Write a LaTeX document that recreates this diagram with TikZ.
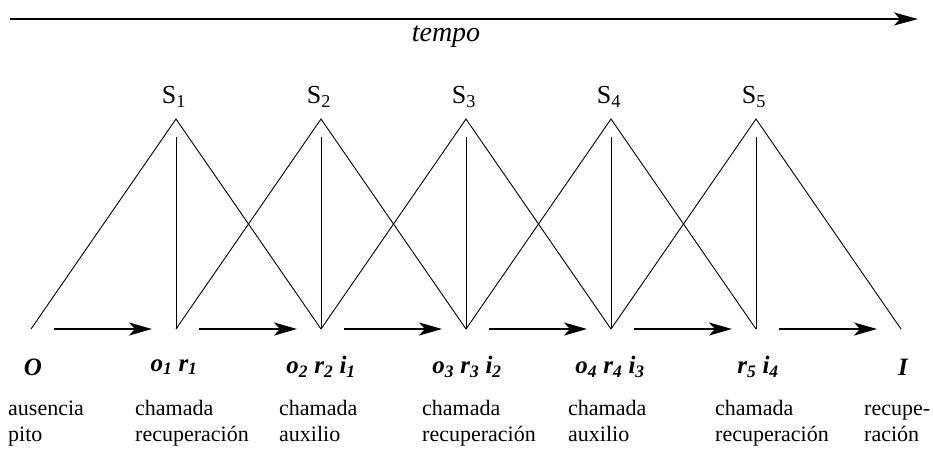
\documentclass[tikz,border=0pt]{standalone}
\usepackage{fontspec}
\setmainfont{Liberation Serif}
\usetikzlibrary{arrows.meta}
\begin{document}
\begin{tikzpicture}[x=1pt, y=-1pt,
  seg/.style={line width=0.9pt},
  arr/.style={line width=2.6pt, -{Stealth[length=23pt,width=13pt,inset=6pt]}, shorten <=23pt, shorten >=24pt},
  lab/.style={font=\fontsize{25}{28}\selectfont\bfseries\itshape},
  desc/.style={font=\fontsize{22}{26}\selectfont, align=left, anchor=base west, inner sep=0pt}]
\useasboundingbox (0,0) rectangle (933,448);
% time axis
\coordinate (t0) at (10,19);
\coordinate (t1) at (918,19);
\draw[line width=2pt, -{Stealth[length=24pt,width=13pt,inset=6pt]}] (t0) -- (t1);
\node[font=\fontsize{28}{30}\selectfont\itshape] (tempo) at (446,37) {tempo};
% feet and peaks
\foreach \i in {0,...,6}
  \coordinate (b\i) at ({31+145*\i},329);
\foreach \i in {1,...,5} {
  \coordinate (p\i) at ({31+145*\i},119);
  \coordinate (v\i) at ({31+145*\i},137);
  \node[font=\fontsize{26}{30}\selectfont] (S\i) at ({29+145*\i},97) {S\textsubscript{\i}};
}
\foreach \i in {1,...,5} {
  \pgfmathtruncatemacro\lft{\i-1}
  \pgfmathtruncatemacro\rgt{\i+1}
  \draw[seg] (b\lft) -- (p\i) -- (b\rgt);
  \draw[seg] (v\i) -- (b\i);
}
% transitions
\foreach \i in {0,...,5} {
  \pgfmathtruncatemacro\nxt{\i+1}
  \draw[arr] (b\i) -- (b\nxt);
}
% states
\node[lab] (l0) at (33,367) {O};
\node[lab] (l1) at (174,367) {o\textsubscript{1} r\textsubscript{1}};
\node[lab] (l2) at (321,367) {o\textsubscript{2} r\textsubscript{2} i\textsubscript{1}};
\node[lab] (l3) at (467,367) {o\textsubscript{3} r\textsubscript{3} i\textsubscript{2}};
\node[lab] (l4) at (610,367) {o\textsubscript{4} r\textsubscript{4} i\textsubscript{3}};
\node[lab] (l5) at (758,367) {r\textsubscript{5} i\textsubscript{4}};
\node[lab] (l6) at (903,367) {I};
% descriptions
\node[desc] (d0) at (8,441) {ausencia\\pito};
\node[desc] (d1) at (135,441) {chamada\\recuperación};
\node[desc] (d2) at (279,441) {chamada\\auxilio};
\node[desc] (d3) at (422,441) {chamada\\recuperación};
\node[desc] (d4) at (568,441) {chamada\\auxilio};
\node[desc] (d5) at (715,441) {chamada\\recuperación};
\node[desc] (d6) at (864,441) {recupe-\\ración};
\end{tikzpicture}
\end{document}
